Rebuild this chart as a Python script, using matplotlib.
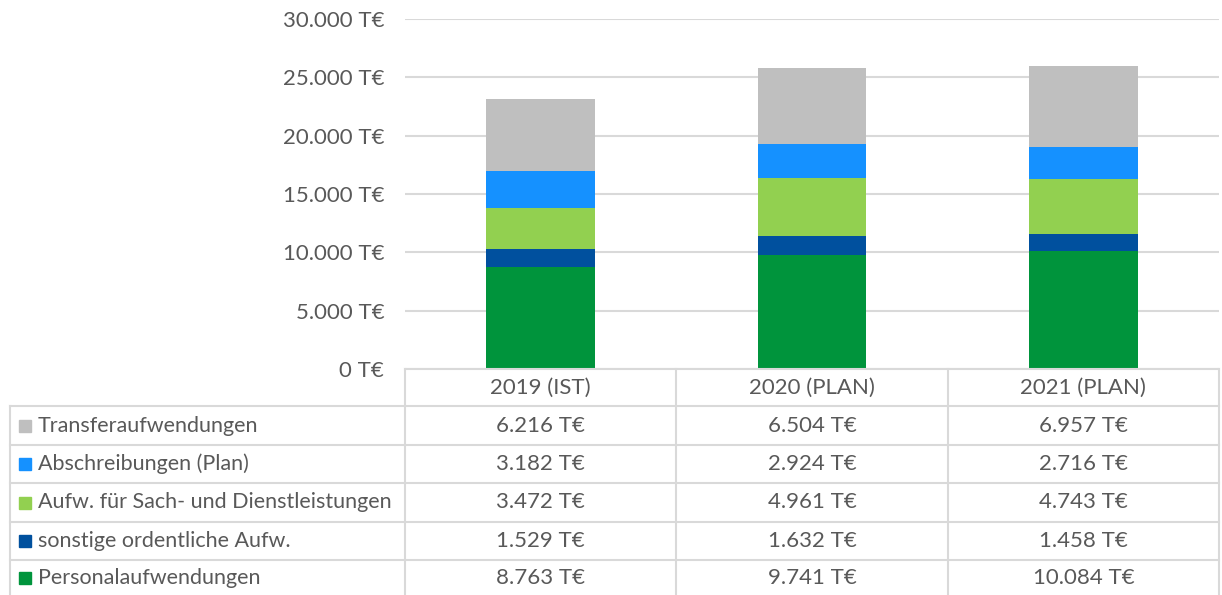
import numpy as np
import matplotlib.pyplot as plt
from matplotlib.patches import Rectangle

plt.rcParams['font.family'] = ['Lato', 'DejaVu Sans']

# Daten
jahre = ['2019 (IST)', '2020 (PLAN)', '2021 (PLAN)']
serien = ['Personalaufwendungen', 'sonstige ordentliche Aufw.',
          'Aufw. für Sach- und Dienstleistungen', 'Abschreibungen (Plan)',
          'Transferaufwendungen']
personal = [8763, 9741, 10084]
sonstige = [1529, 1632, 1458]
sach = [3472, 4961, 4743]
abschr = [3182, 2924, 2716]
transfer = [6216, 6504, 6957]
farben = ['#00943C', '#00509E', '#92D050', '#1591FF', '#BFBFBF']

werte = [personal, sonstige, sach, abschr, transfer]

def fmt(v):
    return f'{v:,.0f}'.replace(',', '.') + ' T€'

W, H = 1222, 595
fs = 16
fig = plt.figure(figsize=(W / 100, H / 100), dpi=100)
textfarbe = '#595959'
linienfarbe = '#D9D9D9'

# Diagrammbereich (Pixel -> Figur)
x0, x1, y_top, y_null = 405, 1219, 19, 369
ax = fig.add_axes([x0 / W, 1 - y_null / H, (x1 - x0) / W, (y_null - y_top) / H])
x = np.arange(len(jahre))
unten = np.zeros(len(jahre))
for w, c, name in zip(werte, farben, serien):
    ax.bar(x, w, bottom=unten, width=0.4, color=c, label=name, zorder=3)
    unten += np.array(w)
ax.set_xlim(-0.5, 2.5)
ax.set_ylim(0, 30000)
ax.set_yticks(range(0, 30001, 5000))
ax.set_yticklabels([fmt(v) for v in range(0, 30001, 5000)], fontsize=fs, color=textfarbe)
ax.set_xticks([])
ax.tick_params(axis='y', length=0, pad=15)
ax.grid(axis='y', color=linienfarbe, linewidth=1.5, zorder=0)
for s in ax.spines.values():
    s.set_visible(False)

# Datentabelle
tab = fig.add_axes([0, 0, 1, 1])
tab.set_xlim(0, W)
tab.set_ylim(H, 0)
tab.axis('off')
zeilen = [369, 406, 445, 483, 522, 560, 598]
spalten = [x0, x0 + (x1 - x0) / 3, x0 + 2 * (x1 - x0) / 3, x1]
lk = dict(color=linienfarbe, linewidth=1.5)
tab.plot([x0, x1], [zeilen[0]] * 2, **lk)
for y in zeilen[1:]:
    tab.plot([10, x1], [y, y], **lk)
tab.plot([10, 10], [zeilen[1], H], **lk)
for xs in spalten:
    tab.plot([xs, xs], [zeilen[0], H], **lk)

for j, jahr in enumerate(jahre):
    xm = (spalten[j] + spalten[j + 1]) / 2
    tab.text(xm, (zeilen[0] + zeilen[1]) / 2, jahr, ha='center', va='center',
             fontsize=fs, color=textfarbe)

# Tabellenzeilen von oben: Transfer ... Personal
for i, k in enumerate(range(len(serien) - 1, -1, -1)):
    ym = (zeilen[i + 1] + zeilen[i + 2]) / 2
    if i == 4:
        ym = 578
    tab.add_patch(Rectangle((19, ym - 6), 12, 12, color=farben[k]))
    tab.text(38, ym, serien[k], ha='left', va='center', fontsize=15.5, color=textfarbe)
    for j in range(len(jahre)):
        xm = (spalten[j] + spalten[j + 1]) / 2
        tab.text(xm, ym, fmt(werte[k][j]), ha='center', va='center',
                 fontsize=fs, color=textfarbe)

fig.savefig('out.png', dpi=100)
